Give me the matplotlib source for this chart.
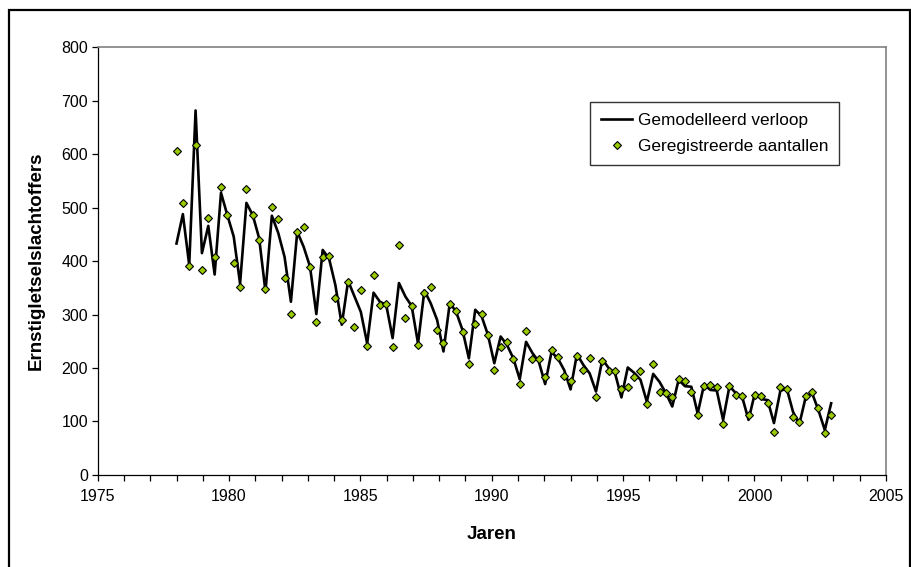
import numpy as np
import matplotlib
matplotlib.use("Agg")
import matplotlib.pyplot as plt
from matplotlib.patches import Rectangle
from matplotlib.ticker import MultipleLocator

plt.rcParams['font.family'] = ['Liberation Sans', 'DejaVu Sans']

# ---- data ----
start_year = 1978.0
end_year = 2002.92

registered = [606, 508, 391, 617, 384, 481, 407, 538, 487, 397,
              352, 535, 487, 439, 347, 502, 478, 369, 302, 454,
              464, 389, 287, 408, 409, 331, 289, 361, 276, 346,
              242, 374, 318, 320, 239, 431, 293, 316, 244, 341,
              352, 271, 246, 320, 307, 268, 208, 282, 301, 261,
              196, 240, 248, 216, 170, 269, 217, 217, 184, 234,
              220, 186, 176, 223, 196, 218, 145, 214, 195, 194,
              161, 164, 183, 194, 132, 208, 156, 153, 146, 179,
              176, 155, 112, 167, 168, 165, 96, 166, 150, 148,
              112, 150, 148, 135, 80, 165, 160, 108, 99, 148,
              155, 126, 79, 113]

modelled = [433, 488, 393, 682, 415, 466, 375, 528, 486, 446,
            358, 509, 486, 443, 343, 485, 453, 408, 324, 455,
            427, 390, 301, 421, 405, 355, 281, 363, 334, 305,
            246, 341, 324, 318, 256, 359, 334, 316, 246, 345,
            321, 290, 231, 322, 305, 271, 218, 309, 297, 262,
            209, 259, 243, 218, 179, 249, 228, 212, 170, 230,
            218, 196, 160, 226, 206, 190, 156, 216, 200, 190,
            145, 201, 191, 178, 137, 189, 174, 153, 128, 178,
            166, 165, 115, 169, 159, 158, 103, 166, 153, 146,
            103, 153, 142, 140, 97, 157, 162, 118, 95, 146,
            153, 121, 84, 134]

years = np.linspace(start_year, end_year, len(registered))

line_label = "Gemodelleerd verloop"
point_label = "Geregistreerde aantallen"
x_label = "Jaren"
y_label = "Ernstigletselslachtoffers"

# ---- figure ----
W, H = 912, 567
fig = plt.figure(figsize=(W / 100, H / 100), dpi=100)
fig.patch.set_facecolor('white')

L, R, T, B = 97.7, 885.8, 47.4, 474.9
ax = fig.add_axes([L / W, 1 - B / H, (R - L) / W, (B - T) / H])

ax.plot(years, modelled, color='black', lw=1.9, label=line_label, zorder=2)
ax.plot(years, registered, linestyle='none', marker='D', markersize=3.9,
        markerfacecolor='#99CC00', markeredgecolor='black', markeredgewidth=0.8,
        label=point_label, zorder=3)

ax.set_xlim(1975, 2005)
ax.set_ylim(0, 800)
ax.xaxis.set_major_locator(MultipleLocator(5))
ax.xaxis.set_minor_locator(MultipleLocator(1))
ax.yaxis.set_major_locator(MultipleLocator(100))
ax.tick_params(axis='both', which='both', direction='out', length=4,
               width=0.9, color='black', labelsize=11.5, pad=3)
ax.tick_params(axis='x', pad=6)

for s in ['top', 'right']:
    ax.spines[s].set_color('#808080')
    ax.spines[s].set_linewidth(1.2)
for s in ['left', 'bottom']:
    ax.spines[s].set_color('black')
    ax.spines[s].set_linewidth(0.9)

ax.set_xlabel(x_label, fontsize=13.5, fontweight='bold', labelpad=16)
ax.set_ylabel(y_label, fontsize=13.5, fontweight='bold', labelpad=12)

leg = ax.legend(loc='upper left', bbox_to_anchor=(0.625, 0.873),
                frameon=True, fancybox=False, shadow=False,
                fontsize=12.4, handlelength=1.8, handletextpad=0.3,
                borderpad=0.65, labelspacing=0.65, borderaxespad=0)
leg.get_frame().set_edgecolor('black')
leg.get_frame().set_linewidth(1.0)

# outer border
fig.patches.append(Rectangle((9 / W, -0.02), (910 - 9) / W, 1 - 10 / H + 0.02,
                             transform=fig.transFigure, fill=False,
                             edgecolor='black', linewidth=1.6))

fig.savefig('out.png', dpi=100)
